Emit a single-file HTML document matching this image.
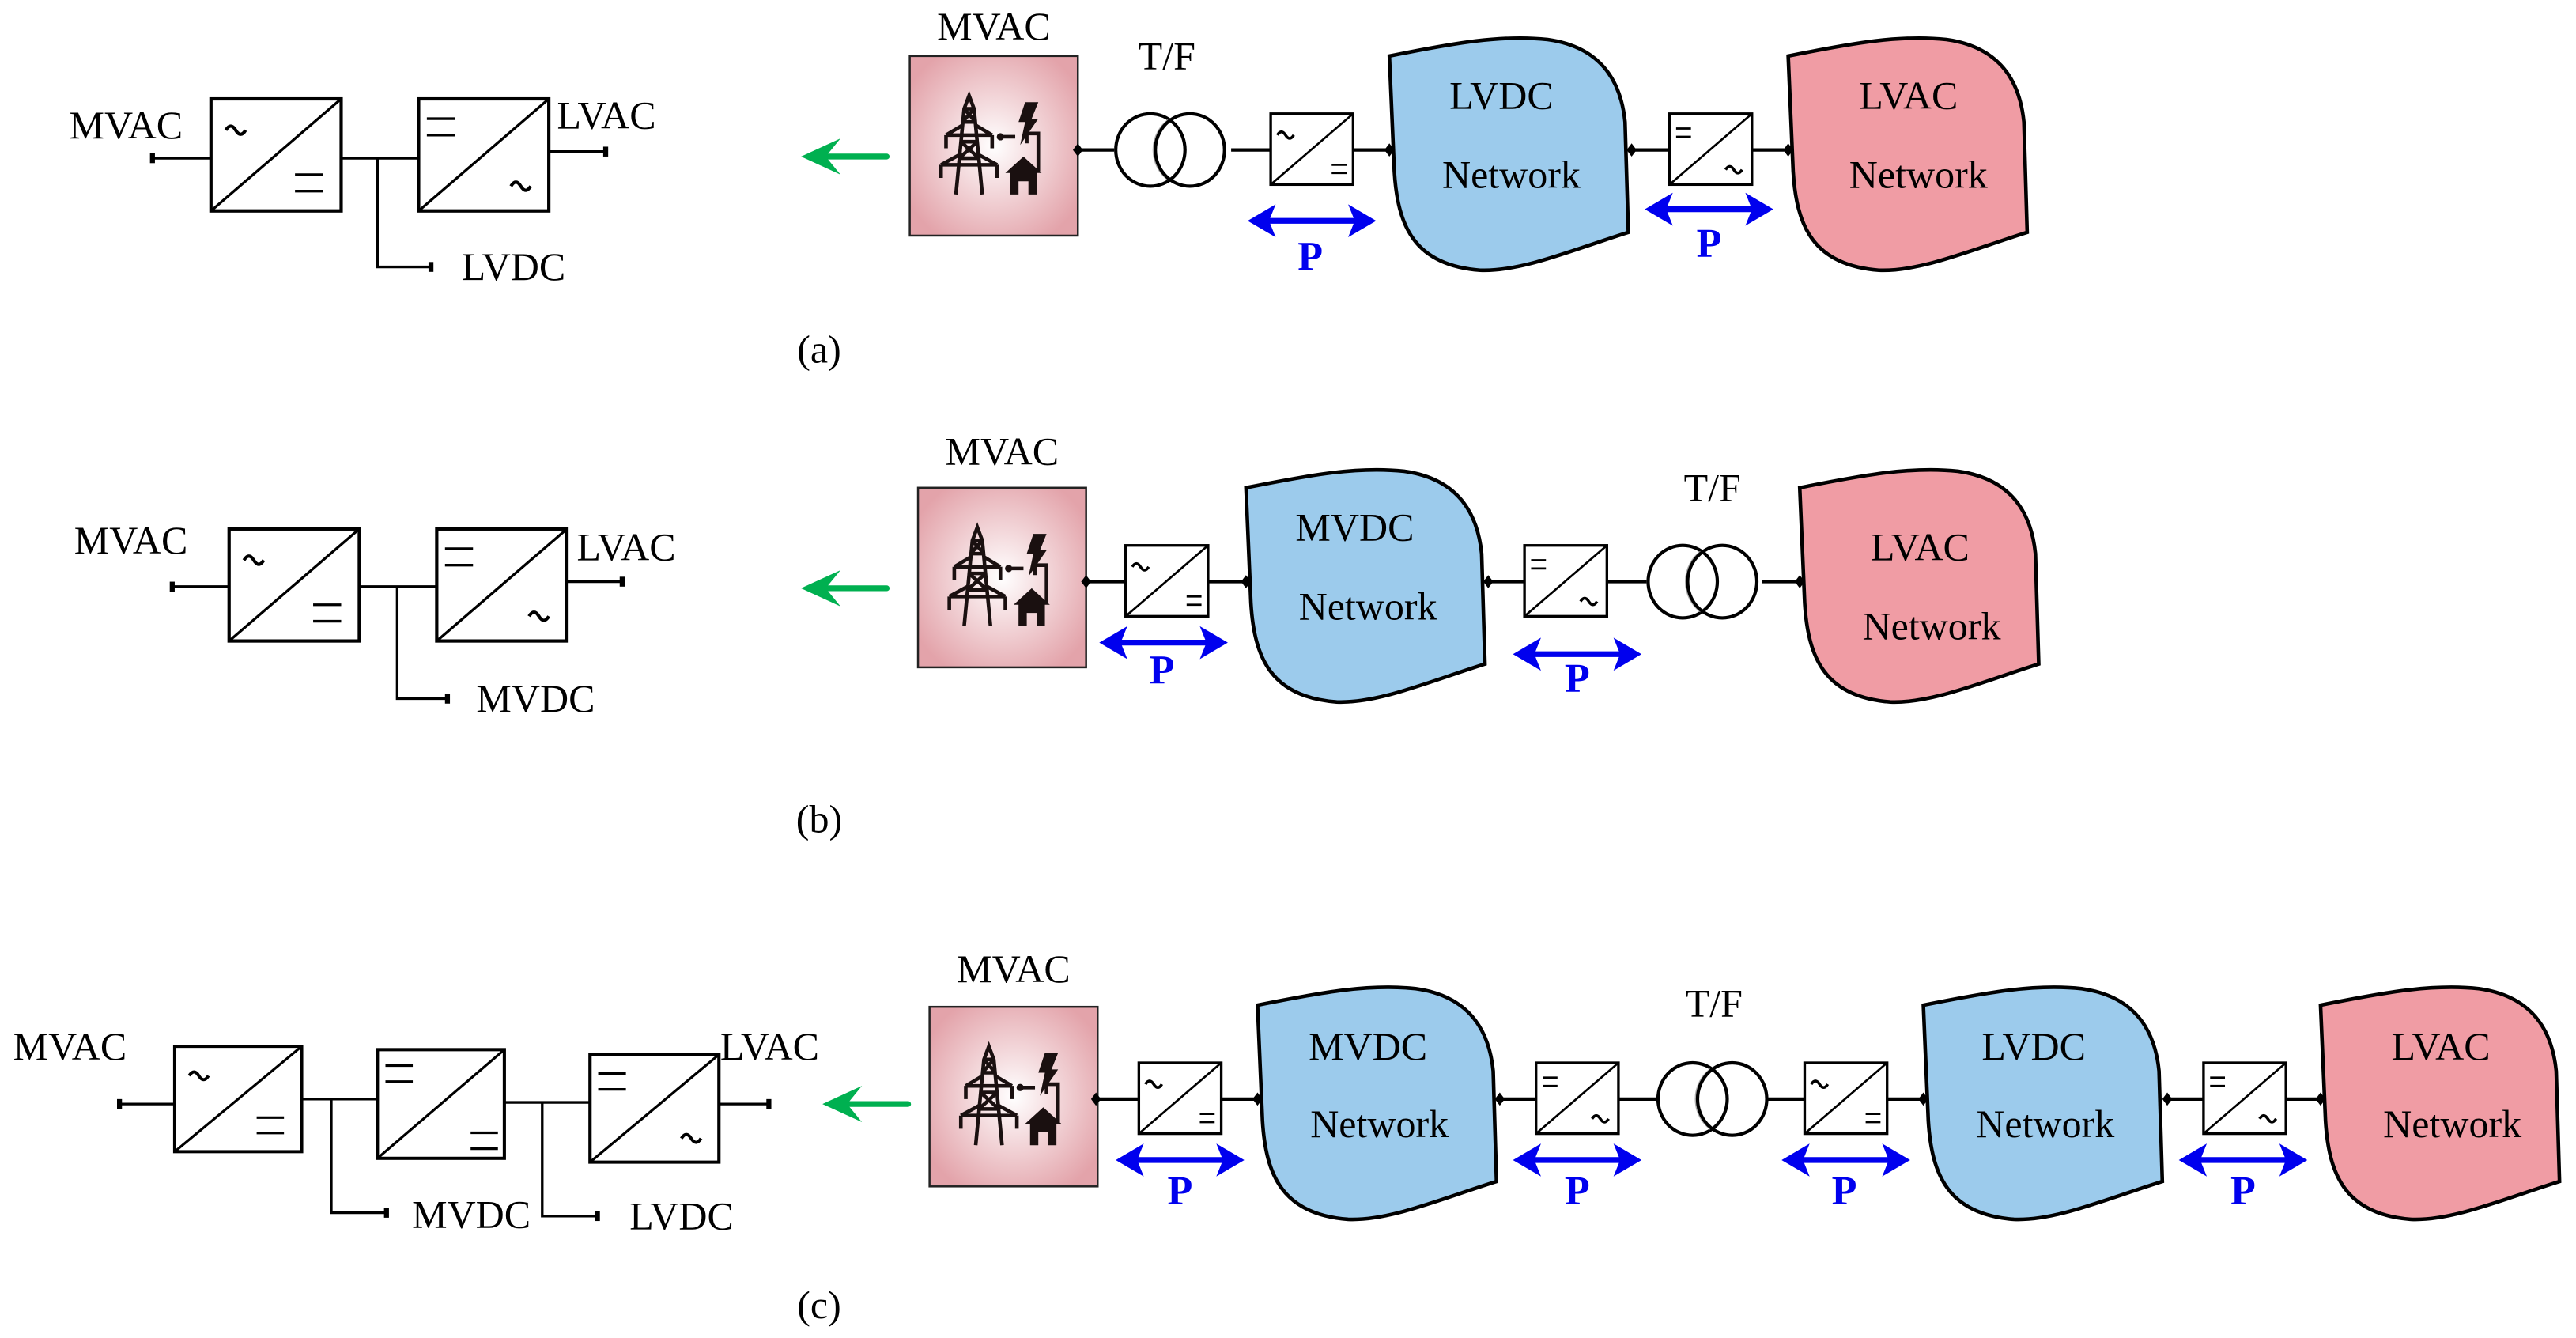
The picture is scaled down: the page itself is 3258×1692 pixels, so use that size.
<!DOCTYPE html>
<html><head><meta charset="utf-8"><style>html,body{margin:0;padding:0;background:#fff}svg{display:block}</style></head>
<body>
<svg width="3258" height="1692" viewBox="0 0 1563 812" preserveAspectRatio="none" xmlns="http://www.w3.org/2000/svg" font-family="Liberation Serif, serif">
<defs>
<radialGradient id="pk" cx="50%" cy="50%" r="60%"><stop offset="0" stop-color="#fff"/><stop offset="1" stop-color="#e3a3aa"/></radialGradient>
<g id="acdc" fill="none" stroke="#000" stroke-width="1.6">
<rect x="0" y="0" width="79" height="68" fill="#fff" stroke-width="2"/><line x1="0" y1="68" x2="79" y2="0"/>
<path d="M9,19 q3,-5 6,0 t6,0" stroke-width="2"/><line x1="51" y1="46" x2="68" y2="46"/><line x1="51" y1="56" x2="68" y2="56"/></g>
<g id="dcdc" fill="none" stroke="#000" stroke-width="1.6">
<rect x="0" y="0" width="79" height="68" fill="#fff" stroke-width="2"/><line x1="0" y1="68" x2="79" y2="0"/>
<line x1="5" y1="10" x2="22" y2="10"/><line x1="5" y1="20" x2="22" y2="20"/><line x1="58" y1="52" x2="75" y2="52"/><line x1="58" y1="62" x2="75" y2="62"/></g>
<g id="dcac" fill="none" stroke="#000" stroke-width="1.6">
<rect x="0" y="0" width="79" height="68" fill="#fff" stroke-width="2"/><line x1="0" y1="68" x2="79" y2="0"/>
<line x1="5" y1="12" x2="22" y2="12"/><line x1="5" y1="22" x2="22" y2="22"/><path d="M56,53 q3,-5 6,0 t6,0" stroke-width="2"/></g>
<g id="sacdc" fill="none" stroke="#000" stroke-width="1.3">
<rect x="0" y="0" width="50" height="43" fill="#fff" stroke-width="1.6"/><line x1="0" y1="43" x2="50" y2="0"/>
<path d="M4,13 q2.5,-4 5,0 t5,0" stroke-width="1.7"/><line x1="37" y1="31" x2="46" y2="31"/><line x1="37" y1="36" x2="46" y2="36"/></g>
<g id="sdcac" fill="none" stroke="#000" stroke-width="1.3">
<rect x="0" y="0" width="50" height="43" fill="#fff" stroke-width="1.6"/><line x1="0" y1="43" x2="50" y2="0"/>
<line x1="4" y1="9" x2="13" y2="9"/><line x1="4" y1="14" x2="13" y2="14"/><path d="M34,34 q2.5,-4 5,0 t5,0" stroke-width="1.7"/></g>
<g id="tf" fill="none" stroke="#000" stroke-width="2">
<ellipse cx="-12" cy="0" rx="21" ry="22" fill="#fff"/><path d="M-1,-18 a21,22 0 0 0 0,36" stroke="#aaa" stroke-width="1.5"/><ellipse cx="12" cy="0" rx="21" ry="22"/></g>
<path id="dia" d="M-3,0 L0,-4 L3,0 L0,4 Z" fill="#000"/>
<path id="net" d="M0,0 C40,-8 68,-13 96,-10 C132,-5 141,20 143,40 L145,107 C110,118 80,131 55,130 C15,127 5,103 3,70 Z" stroke="#000" stroke-width="2.2"/>
<g id="barr"><line x1="12" y1="0" x2="66" y2="0" stroke="#0000ee" stroke-width="3.5"/><path d="M0,0 L17,-10 L13,0 L17,10 Z M78,0 L61,-10 L65,0 L61,10 Z" fill="#0000ee"/></g>
<g id="garr"><line x1="12" y1="0" x2="52" y2="0" stroke="#00b050" stroke-width="3.5" stroke-linecap="round"/><path d="M0,0 L24,-11 L15,0 L24,11 Z" fill="#00b050"/></g>
<g id="mv">
<rect x="0" y="0" width="102" height="109" fill="url(#pk)" stroke="#222" stroke-width="1.2"/>
<g stroke="#1a1010" stroke-width="2.2" fill="none">
<path d="M28,84 L33,32 L36,24 L39,32 L44,84"/><path d="M33,32 L39,32 M32,40 L40,40 M31,52 L41,52 M30,62 L42,62 M33,32 L40,40 M39,32 L32,40 M31,52 L42,62 M41,52 L30,62"/>
<path d="M22,48 L32,42 M40,42 L50,48 M22,48 L50,48 M22,48 L22,56 M50,48 L50,56"/>
<path d="M19,66 L30,60 M42,60 L53,66 M19,66 L53,66 M19,66 L19,74 M53,66 L53,74"/>
<path d="M56,49 L64,49 M71,53 L71,47 L78,47 L78,70"/>
</g>
<circle cx="55" cy="49" r="2.2" fill="#1a1010"/>
<path d="M70,28 L78,28 L74,38 L78,38 L67,54 L70,40 L66,40 Z" fill="#1a1010"/>
<path d="M58,71 L69,61 L80,71 Z M61,71 H77 V84 H72 V76 H66 V84 H61 Z" fill="#1a1010"/>
</g>
</defs>

<g font-size="24" fill="#000">
<g stroke="#000" stroke-width="1.6" fill="none">
<path d="M93,96 H128 M207,96 H254 M229,96 V162 H262 M333,92 H368"/></g>
<rect x="91" y="93" width="3" height="6"/><rect x="260" y="159" width="3" height="6"/><rect x="366" y="89" width="3" height="6"/>
<use href="#acdc" x="128" y="60"/><use href="#dcac" x="254" y="60"/>
<text x="42" y="84">MVAC</text><text x="338" y="78">LVAC</text><text x="280" y="170">LVDC</text>
<use href="#garr" x="486" y="95"/>
<g stroke="#000" stroke-width="2"><path d="M654,91 H676 M747,91 H771 M821,91 H843 M990,91 H1013 M1063,91 H1085"/></g>
<use href="#mv" x="552" y="34"/>
<use href="#tf" x="710" y="91"/>
<use href="#sacdc" x="771" y="69"/><use href="#sdcac" x="1013" y="69"/>
<use href="#net" x="843" y="34" fill="#9ccbec"/><use href="#net" x="1085" y="34" fill="#f09ca4"/>
<use href="#dia" x="654" y="91"/><use href="#dia" x="843" y="91"/><use href="#dia" x="990" y="91"/><use href="#dia" x="1085" y="91"/>
<use href="#barr" x="757" y="134"/><use href="#barr" x="998" y="127"/>
<text x="603" y="24" text-anchor="middle">MVAC</text><text x="708" y="42" text-anchor="middle">T/F</text>
<text x="911" y="66" text-anchor="middle">LVDC</text><text x="917" y="114" text-anchor="middle">Network</text>
<text x="1158" y="66" text-anchor="middle">LVAC</text><text x="1164" y="114" text-anchor="middle">Network</text>
<g fill="#0000ee" font-weight="bold" font-size="25"><text x="795" y="164" text-anchor="middle">P</text><text x="1037" y="156" text-anchor="middle">P</text></g>
<text x="497" y="220" text-anchor="middle">(a)</text>

<g stroke="#000" stroke-width="1.6" fill="none">
<path d="M105,356 H139 M218,356 H265 M241,356 V424 H272 M344,353 H378"/></g>
<rect x="103" y="353" width="3" height="6"/><rect x="270" y="421" width="3" height="6"/><rect x="376" y="350" width="3" height="6"/>
<use href="#acdc" x="139" y="321"/><use href="#dcac" x="265" y="321"/>
<text x="45" y="336">MVAC</text><text x="350" y="340">LVAC</text><text x="289" y="432">MVDC</text>
<use href="#garr" x="486" y="357"/>
<g stroke="#000" stroke-width="2"><path d="M659,353 H683 M733,353 H756 M903,353 H925 M975,353 H999 M1069,353 H1092"/></g>
<use href="#mv" x="557" y="296"/>
<use href="#sacdc" x="683" y="331"/><use href="#sdcac" x="925" y="331"/>
<use href="#tf" x="1033" y="353"/>
<use href="#net" x="756" y="296" fill="#9ccbec"/><use href="#net" x="1092" y="296" fill="#f09ca4"/>
<use href="#dia" x="659" y="353"/><use href="#dia" x="756" y="353"/><use href="#dia" x="903" y="353"/><use href="#dia" x="1092" y="353"/>
<use href="#barr" x="667" y="390"/><use href="#barr" x="918" y="397"/>
<text x="608" y="282" text-anchor="middle">MVAC</text><text x="1039" y="304" text-anchor="middle">T/F</text>
<text x="822" y="328" text-anchor="middle">MVDC</text><text x="830" y="376" text-anchor="middle">Network</text>
<text x="1165" y="340" text-anchor="middle">LVAC</text><text x="1172" y="388" text-anchor="middle">Network</text>
<g fill="#0000ee" font-weight="bold" font-size="25"><text x="705" y="415" text-anchor="middle">P</text><text x="957" y="420" text-anchor="middle">P</text></g>
<text x="497" y="505" text-anchor="middle">(b)</text>

<g stroke="#000" stroke-width="1.6" fill="none">
<path d="M73,670 H106 M183,667 H229 M201,667 V736 H235 M306,669 H358 M329,669 V738 H363 M436,670 H467"/></g>
<rect x="71" y="667" width="3" height="6"/><rect x="233" y="733" width="3" height="6"/><rect x="361" y="735" width="3" height="6"/><rect x="465" y="667" width="3" height="6"/>
<use href="#acdc" transform="translate(106,635) scale(0.975,0.94)"/>
<use href="#dcdc" transform="translate(229,637) scale(0.975,0.97)"/>
<use href="#dcac" transform="translate(358,640) scale(0.99,0.96)"/>
<text x="8" y="643">MVAC</text><text x="437" y="643">LVAC</text><text x="250" y="745">MVDC</text><text x="382" y="746">LVDC</text>
<use href="#garr" x="499" y="670"/>
<g stroke="#000" stroke-width="2"><path d="M665,667 H691 M740,667 H763 M910,667 H932 M981,667 H1006 M1072,667 H1095 M1144,667 H1167 M1315,667 H1337 M1386,667 H1408"/></g>
<use href="#mv" x="564" y="611"/>
<use href="#sacdc" x="691" y="645"/><use href="#sdcac" x="932" y="645"/><use href="#sacdc" x="1095" y="645"/><use href="#sdcac" x="1337" y="645"/>
<use href="#tf" x="1039" y="667"/>
<use href="#net" x="763" y="610" fill="#9ccbec"/><use href="#net" x="1167" y="610" fill="#9ccbec"/><use href="#net" x="1408" y="610" fill="#f09ca4"/>
<use href="#dia" x="665" y="667"/><use href="#dia" x="763" y="667"/><use href="#dia" x="910" y="667"/><use href="#dia" x="1167" y="667"/><use href="#dia" x="1315" y="667"/><use href="#dia" x="1408" y="667"/>
<use href="#barr" x="677" y="704"/><use href="#barr" x="918" y="704"/><use href="#barr" x="1081" y="704"/><use href="#barr" x="1322" y="704"/>
<text x="615" y="596" text-anchor="middle">MVAC</text><text x="1040" y="617" text-anchor="middle">T/F</text>
<text x="830" y="643" text-anchor="middle">MVDC</text><text x="837" y="690" text-anchor="middle">Network</text>
<text x="1234" y="643" text-anchor="middle">LVDC</text><text x="1241" y="690" text-anchor="middle">Network</text>
<text x="1481" y="643" text-anchor="middle">LVAC</text><text x="1488" y="690" text-anchor="middle">Network</text>
<g fill="#0000ee" font-weight="bold" font-size="25"><text x="716" y="731" text-anchor="middle">P</text><text x="957" y="731" text-anchor="middle">P</text><text x="1119" y="731" text-anchor="middle">P</text><text x="1361" y="731" text-anchor="middle">P</text></g>
<text x="497" y="800" text-anchor="middle">(c)</text>
</g>
</svg>
</body></html>
